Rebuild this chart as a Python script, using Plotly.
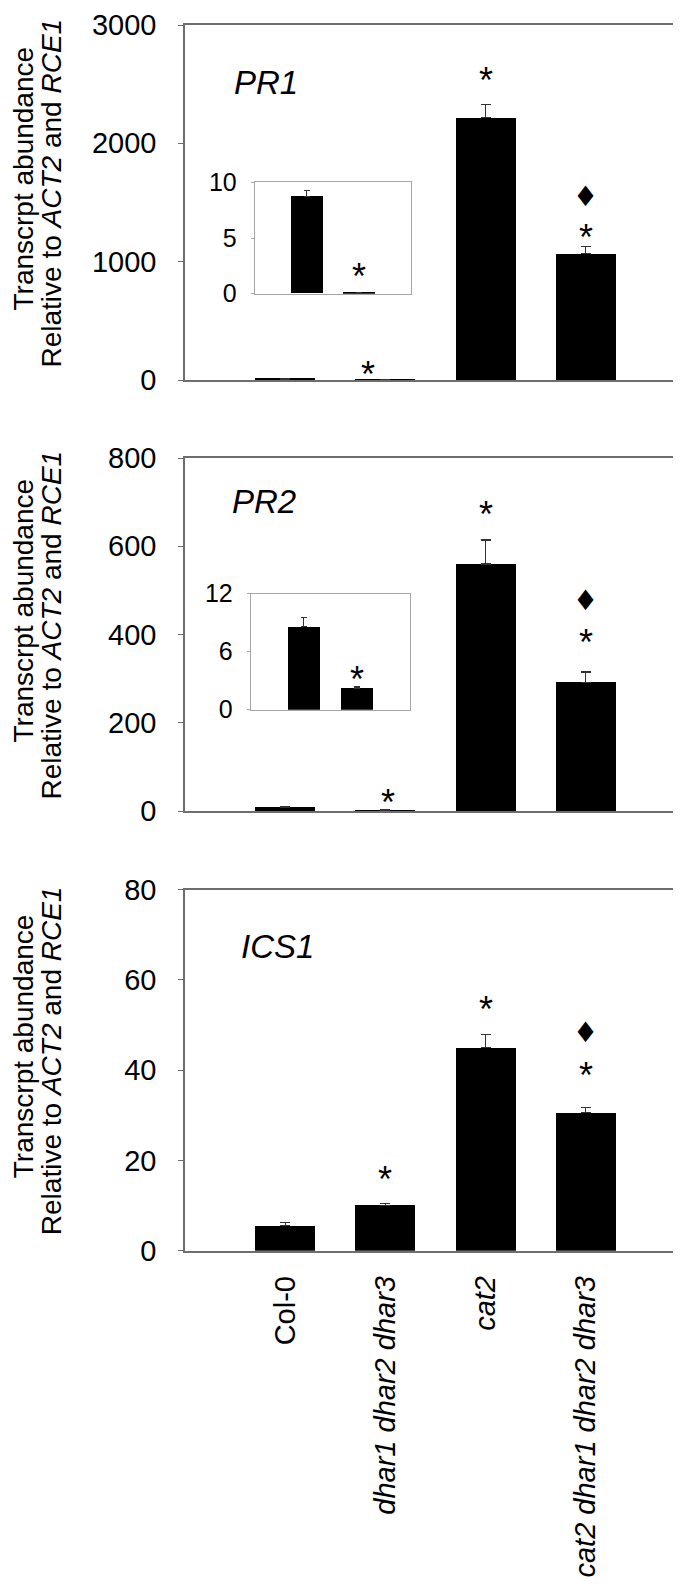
import plotly.graph_objects as go

# ---------------- data ----------------
categories = ["Col-0", "dhar1 dhar2 dhar3", "cat2", "cat2 dhar1 dhar2 dhar3"]
category_labels = ["Col-0", "<i>dhar1 dhar2 dhar3</i>", "<i>cat2</i>", "<i>cat2 dhar1 dhar2 dhar3</i>"]
x_pos = [1, 2, 3, 4]

pr1_mean = [8.7, 0.1, 2218, 1067]
pr1_err = [0.6, 0.02, 112, 58]
pr2_mean = [8.6, 2.24, 560, 292]
pr2_err = [0.95, 0.17, 54, 23]
ics1_mean = [5.6, 10.1, 45.0, 30.6]
ics1_err = [0.6, 0.3, 3.0, 1.2]

# significance marks: (x, y) in data units
pr1_star_x = [1.83, 3, 4]
pr1_star_y = [115, 2600, 1274]
pr1_diam_x = [4]
pr1_diam_y = [1553]
pr1_inset_star_x = [2]
pr1_inset_star_y = [2.3]

pr2_star_x = [2.03, 3, 4]
pr2_star_y = [37, 691, 400]
pr2_diam_x = [4]
pr2_diam_y = [477]
pr2_inset_star_x = [2]
pr2_inset_star_y = [4.0]

ics1_star_x = [2, 3, 4]
ics1_star_y = [17.6, 55.2, 40.6]
ics1_diam_x = [4]
ics1_diam_y = [48.3]

pr1_ticks = [0, 1000, 2000, 3000]
pr2_ticks = [0, 200, 400, 600, 800]
ics1_ticks = [0, 20, 40, 60, 80]
pr1_inset_ticks = [0, 5, 10]
pr2_inset_ticks = [0, 6, 12]

# ---------------- layout helpers ----------------
W, H = 681, 1589
FONT = "Liberation Sans, Arial, sans-serif"


def py(px):
    return 1 - px / H


def pxx(px):
    return px / W


fig = go.Figure()


def add_bars(xs, ys, errs, xa, ya, capw):
    fig.add_trace(go.Bar(
        x=xs, y=ys, width=0.6, xaxis=xa, yaxis=ya,
        marker=dict(color="black", line=dict(width=0)),
        error_y=dict(type="data", array=errs, arrayminus=[0] * len(errs), symmetric=False,
                     color="#333333", thickness=1.2, width=capw),
        showlegend=False, hoverinfo="skip"))


add_bars(x_pos, pr1_mean, pr1_err, "x", "y", 5)
add_bars(x_pos, pr2_mean, pr2_err, "x2", "y2", 5)
add_bars(x_pos, ics1_mean, ics1_err, "x3", "y3", 5)
add_bars(x_pos[:2], pr1_mean[:2], pr1_err[:2], "x4", "y4", 3)
add_bars(x_pos[:2], pr2_mean[:2], pr2_err[:2], "x5", "y5", 3)

main_x_dom = [pxx(177), pxx(678)]
panel_px = [(17, 372), (450, 803), (881.7, 1242.7)]
panel_ticks = [pr1_ticks, pr2_ticks, ics1_ticks]
LC = "#6e6e6e"
lay = {}
for i, ((top, bot), ticks) in enumerate(zip(panel_px, panel_ticks)):
    n = str(i + 1) if i else ""
    lay["xaxis" + n] = dict(
        domain=main_x_dom, anchor="y" + n, range=[0, 5], showgrid=False, zeroline=False,
        showline=True, mirror=True, linecolor=LC, linewidth=1.5, ticks="",
        tickvals=x_pos if i == 2 else [], ticktext=category_labels if i == 2 else [],
        tickangle=-90, tickfont=dict(family=FONT, size=29, color="black"),
        ticklabelstandoff=12, ticklabeloverflow="allow", automargin=False, fixedrange=True)
    lay["yaxis" + n] = dict(
        domain=[py(bot), py(top)], anchor="x" + n, range=[0, ticks[-1]], tickvals=ticks,
        showgrid=False, zeroline=False, showline=True, mirror=True, linecolor=LC,
        linewidth=1.5, ticks="outside", ticklen=5, tickcolor=LC, tickwidth=1.2,
        tickfont=dict(family=FONT, size=29, color="black"), ticklabelstandoff=16,
        ticklabeloverflow="allow", automargin=False, fixedrange=True)

insets = [
    ("4", [pxx(246.7), pxx(402.7)], [py(285.7), py(174.3)], pr1_inset_ticks),
    ("5", [pxx(242.7), pxx(401.7)], [py(701.7), py(585.7)], pr2_inset_ticks),
]
IC = "#a6a6a6"
for n, xdom, ydom, ticks in insets:
    lay["xaxis" + n] = dict(domain=xdom, anchor="y" + n, range=[0, 3], showgrid=False,
                            zeroline=False, showline=True, mirror=True, linecolor=IC,
                            linewidth=1, ticks="", showticklabels=False, fixedrange=True)
    lay["yaxis" + n] = dict(domain=ydom, anchor="x" + n, range=[0, ticks[-1]], tickvals=ticks,
                            showgrid=False, zeroline=False, showline=True, mirror=True,
                            linecolor=IC, linewidth=1, ticks="outside", ticklen=3,
                            tickcolor=IC, tickfont=dict(family=FONT, size=25, color="black"),
                            ticklabelstandoff=9, ticklabeloverflow="allow",
                            automargin=False, fixedrange=True)

annotations = []


def add_marks(xs, ys, xr, yr, text, size, shift, family):
    for xv, yv in zip(xs, ys):
        annotations.append(dict(x=xv, y=yv, xref=xr, yref=yr, text=text, showarrow=False,
                                xanchor="center", yanchor="middle", yshift=shift,
                                font=dict(family=family, size=size, color="black")))


STAR = 36
DIAM = 28
add_marks(pr1_star_x, pr1_star_y, "x", "y", "*", STAR, -8, FONT)
add_marks(pr1_diam_x, pr1_diam_y, "x", "y", "\u2666", DIAM, 0, "DejaVu Sans")
add_marks(pr1_inset_star_x, pr1_inset_star_y, "x4", "y4", "*", STAR, -8, FONT)
add_marks(pr2_star_x, pr2_star_y, "x2", "y2", "*", STAR, -8, FONT)
add_marks(pr2_diam_x, pr2_diam_y, "x2", "y2", "\u2666", DIAM, 0, "DejaVu Sans")
add_marks(pr2_inset_star_x, pr2_inset_star_y, "x5", "y5", "*", STAR, -8, FONT)
add_marks(ics1_star_x, ics1_star_y, "x3", "y3", "*", STAR, -8, FONT)
add_marks(ics1_diam_x, ics1_diam_y, "x3", "y3", "\u2666", DIAM, 0, "DejaVu Sans")

# gene labels
gene_labels = [("PR1", "x", "y", 0.47, 2517), ("PR2", "x2", "y2", 0.45, 702), ("ICS1", "x3", "y3", 0.54, 67.4)]
for txt, xr, yr, xv, yv in gene_labels:
    annotations.append(dict(x=xv, y=yv, xref=xr, yref=yr, text="<i>%s</i>" % txt, showarrow=False,
                            xanchor="left", yanchor="middle",
                            font=dict(family=FONT, size=33, color="black")))

# y axis titles (two lines each)
title_line1 = "Transcrpt abundance"
title_line2 = "Relative to <i>ACT2</i> and <i>RCE1</i>"
for top, bot in panel_px:
    c = (top + bot) / 2
    annotations.append(dict(x=pxx(15), y=py(c - 24), xref="paper", yref="paper", text=title_line1,
                            textangle=-90, showarrow=False, xanchor="center", yanchor="middle",
                            font=dict(family=FONT, size=28, color="black")))
    annotations.append(dict(x=pxx(43), y=py(c - 9), xref="paper", yref="paper", text=title_line2,
                            textangle=-90, showarrow=False, xanchor="center", yanchor="middle",
                            font=dict(family=FONT, size=28, color="black")))

fig.update_layout(
    width=W, height=H, margin=dict(l=0, r=0, t=0, b=0),
    paper_bgcolor="white", plot_bgcolor="white", showlegend=False,
    annotations=annotations, bargap=0, **lay)

fig.write_html("out.html")
